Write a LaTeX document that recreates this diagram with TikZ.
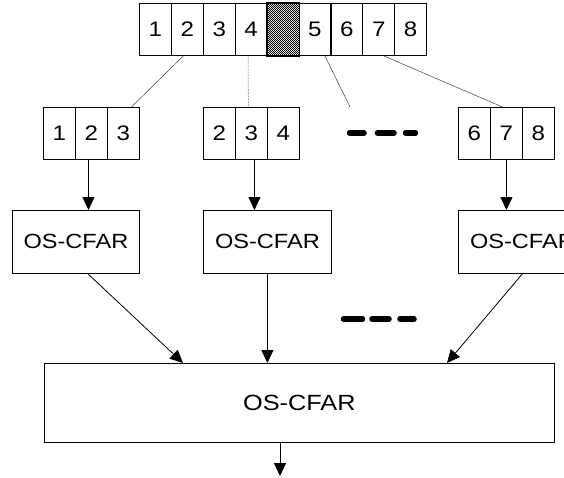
\documentclass[tikz,border=0pt]{standalone}
\usepackage{fontspec}
\setmainfont{Liberation Sans}
\newfontfamily\widesans[FakeStretch=1.15]{Liberation Sans}
\usetikzlibrary{arrows.meta,patterns.meta,calc}
\tikzdeclarepattern{
  name=finecheck, type=uncolored,
  bounding box={(0pt,0pt) and (2.4pt,2.4pt)},
  tile size={(2.4pt,2.4pt)},
  code={
    \fill (0pt,0pt) rectangle (1.2pt,1.2pt);
    \fill (1.2pt,1.2pt) rectangle (2.4pt,2.4pt);
  }}
\begin{document}
\begin{tikzpicture}[x=1pt,y=-1pt,
  cell/.style={draw,line width=0.9pt,minimum width=32pt,minimum height=52pt,inner sep=0pt,anchor=north west,
    font=\widesans\fontsize{21}{24}\selectfont},
  procbox/.style={draw,line width=0.8pt,inner sep=0pt,anchor=north west,font=\widesans\fontsize{20.5}{24}\selectfont},
  thin/.style={line width=0.5pt,draw=black!75},
  arr/.style={line width=0.8pt,-{Triangle[length=13pt,width=12pt]}},
  gap/.style={line width=5.5pt,line cap=round}]
\useasboundingbox (0,0) rectangle (564,477);
\clip (0,0) rectangle (564,477);

% input window: eight cells and the cell under test
\foreach \lbl [count=\i from 0] in {1,2,3,4,,5,6,7,8}{
  \node[cell] (t\i) at ({139+31.9*\i},3) {\lbl};
}
\path[pattern=finecheck,pattern color=black] (t4.north west) rectangle (t4.south east);
\draw[line width=1.8pt] (t4.north west) rectangle (t4.south east);

% sub-windows
\foreach \lbl [count=\i from 0] in {1,2,3}{\node[cell] (a\i) at ({43+32*\i},107) {\lbl};}
\foreach \lbl [count=\i from 0] in {2,3,4}{\node[cell] (b\i) at ({203+32*\i},107) {\lbl};}
\foreach \lbl [count=\i from 0] in {6,7,8}{\node[cell] (c\i) at ({458+32*\i},107) {\lbl};}
\coordinate (gapend) at (350,107);

% links from the window to the sub-windows
\draw[thin] ([xshift=-4pt]t1.south) -- ([xshift=8pt]a2.north);
\draw[thin,densely dotted,draw=black!60,line width=0.8pt] ([xshift=-3pt]t3.south) -- ([xshift=-3pt]b1.north);
\draw[thin] ([xshift=10pt]t5.south) -- (gapend);
\draw[thin] ([xshift=5pt]t7.south) -- ([xshift=-4pt]c1.north);

% ellipsis between sub-windows
\draw[gap] (349.5,133) -- (364,133);
\draw[gap] (377.5,133) -- (394,133);
\draw[gap] (405.5,133) -- (415.5,133);

% first-stage detectors
\node[procbox,minimum width=127pt,minimum height=63pt] (p1) at (12,210) {OS-CFAR};
\node[procbox,minimum width=128pt,minimum height=63pt] (p2) at (203,210) {OS-CFAR};
\node[procbox,minimum width=128pt,minimum height=63pt] (p3) at (458,210) {OS-CFAR};

\draw[arr] ([xshift=-3pt]a1.south) -- ([xshift=-3pt]a1.south |- p1.north);
\draw[arr] ([xshift=3pt]b1.south) -- ([xshift=3pt]b1.south |- p2.north);
\draw[arr] (c1.south) -- (c1.south |- p3.north);

% ellipsis between detectors
\draw[gap] (343.5,319) -- (362.5,319);
\draw[gap] (372,319) -- (389,319);
\draw[gap] (400,319) -- (414,319);

% fusion detector
\node[procbox,minimum width=510pt,minimum height=79pt,font=\widesans\fontsize{22}{26}\selectfont] (f) at (44,363) {OS-CFAR};
\coordinate (out) at (280,476);

\draw[arr] ([xshift=12pt]p1.south) -- ([xshift=139pt]f.north west);
\draw[arr] (p2.south) -- (p2.south |- f.north);
\draw[arr] (p3.south) -- ([xshift=403pt]f.north west);
\draw[arr] (f.south -| out) -- (out);
\end{tikzpicture}
\end{document}
